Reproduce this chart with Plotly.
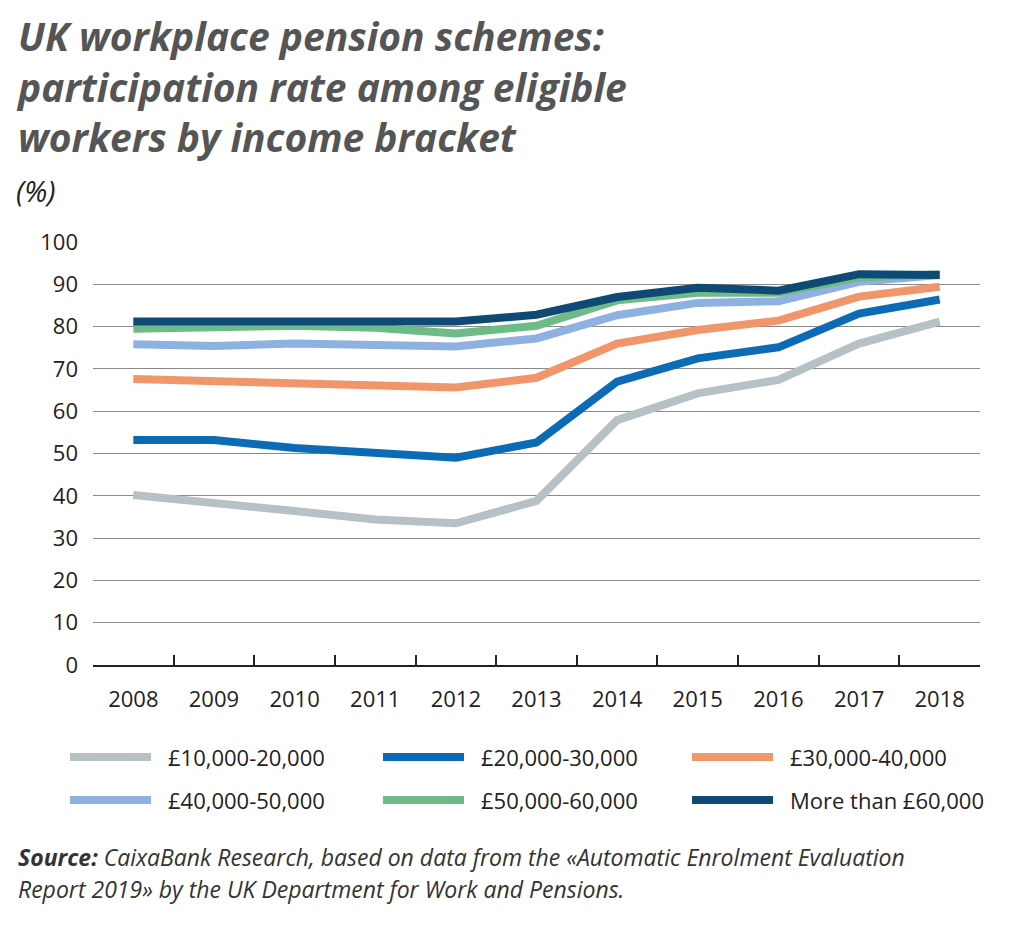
import plotly.graph_objects as go

years = ["2008", "2009", "2010", "2011", "2012", "2013", "2014", "2015", "2016", "2017", "2018"]

s_10_20 = [40.2, 38.1, 36.4, 34.4, 33.5, 38.8, 57.9, 64.2, 67.4, 76.0, 81.2]
s_20_30 = [53.2, 53.2, 51.3, 50.0, 49.0, 52.6, 67.0, 72.5, 75.1, 83.1, 86.4]
s_30_40 = [67.6, 67.2, 66.8, 66.3, 65.6, 67.9, 76.0, 79.2, 81.4, 87.1, 89.4]
s_40_50 = [75.8, 75.4, 76.0, 75.6, 75.3, 77.2, 82.7, 85.6, 86.0, 90.6, 92.2]
s_50_60 = [79.5, 79.8, 80.2, 79.7, 78.4, 80.2, 86.2, 88.0, 88.0, 91.6, 92.4]
s_60_up = [81.2, 81.2, 81.6, 81.2, 81.2, 82.8, 87.0, 89.2, 88.5, 92.4, 92.2]

series_names = ["£10,000-20,000", "£20,000-30,000", "£30,000-40,000",
                "£40,000-50,000", "£50,000-60,000", "More than £60,000"]
series_values = [s_10_20, s_20_30, s_30_40, s_40_50, s_50_60, s_60_up]
series_colors = ["#b5c1c4", "#0b6bb5", "#f1966b", "#8fb1e2", "#6dbb86", "#0e4a74"]

y_ticks = [0, 10, 20, 30, 40, 50, 60, 70, 80, 90, 100]

title_lines = ["UK workplace pension schemes:",
               "participation rate among eligible",
               "workers by income bracket"]
unit_label = "(%)"
source_lines = ["<b>Source:</b> CaixaBank Research, based on data from the «Automatic Enrolment Evaluation",
                "Report 2019» by the UK Department for Work and Pensions."]

W, H = 1024, 935
L, R, T, B = 93, 44, 242, 270
pw, ph = W - L - R, H - T - B


def px(x):
    return (x - L) / pw


def py(y):
    return (H - B - y) / ph


fig = go.Figure()
for name, vals, col in zip(series_names, series_values, series_colors):
    fig.add_trace(go.Scatter(x=years, y=vals, name=name, mode="lines",
                             line=dict(color=col, width=8), showlegend=False,
                             hoverinfo="x+y+name"))

FONT = "Open Sans"
annotations = []
shapes = []

# Title (single multi-line text)
annotations.append(dict(text="<b><i>" + "<br>".join(title_lines) + "</i></b>",
                        x=px(14), y=py(86), xref="paper", yref="paper",
                        xanchor="left", yanchor="middle", align="left", showarrow=False,
                        font=dict(family=FONT, size=39, color="#555555")))
annotations.append(dict(text=f"<i>{unit_label}</i>", x=px(14), y=py(190), xref="paper", yref="paper",
                        xanchor="left", yanchor="middle", showarrow=False,
                        font=dict(family=FONT, size=29, color="#222222")))

# Custom legend
col_x = [66, 379, 688]
row_y = [757, 800]
for i, (name, col) in enumerate(zip(series_names, series_colors)):
    r, c = divmod(i, 3)
    x0 = col_x[c]
    yy = row_y[r]
    shapes.append(dict(type="line", xref="paper", yref="paper", x0=px(x0 + 4), x1=px(x0 + 85),
                       y0=py(yy), y1=py(yy), line=dict(color=col, width=8)))
    annotations.append(dict(text=name, x=px(x0 + 100), y=py(yy), xref="paper", yref="paper",
                            xanchor="left", yanchor="middle", showarrow=False,
                            font=dict(family=FONT, size=22, color="#222222")))

# Source
for txt, yy in zip(source_lines, [857, 889]):
    annotations.append(dict(text=f"<i>{txt}</i>", x=px(16), y=py(yy), xref="paper", yref="paper",
                            xanchor="left", yanchor="middle", showarrow=False,
                            font=dict(family=FONT, size=23, color="#333333")))

fig.update_layout(
    width=W, height=H,
    margin=dict(l=L, r=R, t=T, b=B, autoexpand=False),
    paper_bgcolor="white", plot_bgcolor="white",
    font=dict(family=FONT, size=21, color="#222222"),
    annotations=annotations, shapes=shapes,
    showlegend=False,
)
fig.update_xaxes(type="category", range=[-0.5, 10.5], showgrid=False,
                 showline=True, linecolor="#222222", linewidth=1.5,
                 ticks="inside", ticklen=10, tickcolor="#222222", tickwidth=1.5,
                 tickson="boundaries", tickfont=dict(family=FONT, size=22, color="#222222"),
                 ticklabelstandoff=14, fixedrange=True)
fig.update_yaxes(range=[0, 100], tickvals=y_ticks, showgrid=True, gridcolor="#8a8a8a", gridwidth=1.2,
                 zeroline=False, showline=False, ticks="", ticklabelstandoff=14,
                 tickfont=dict(family=FONT, size=22, color="#222222"), fixedrange=True)

fig.write_html("out.html")
